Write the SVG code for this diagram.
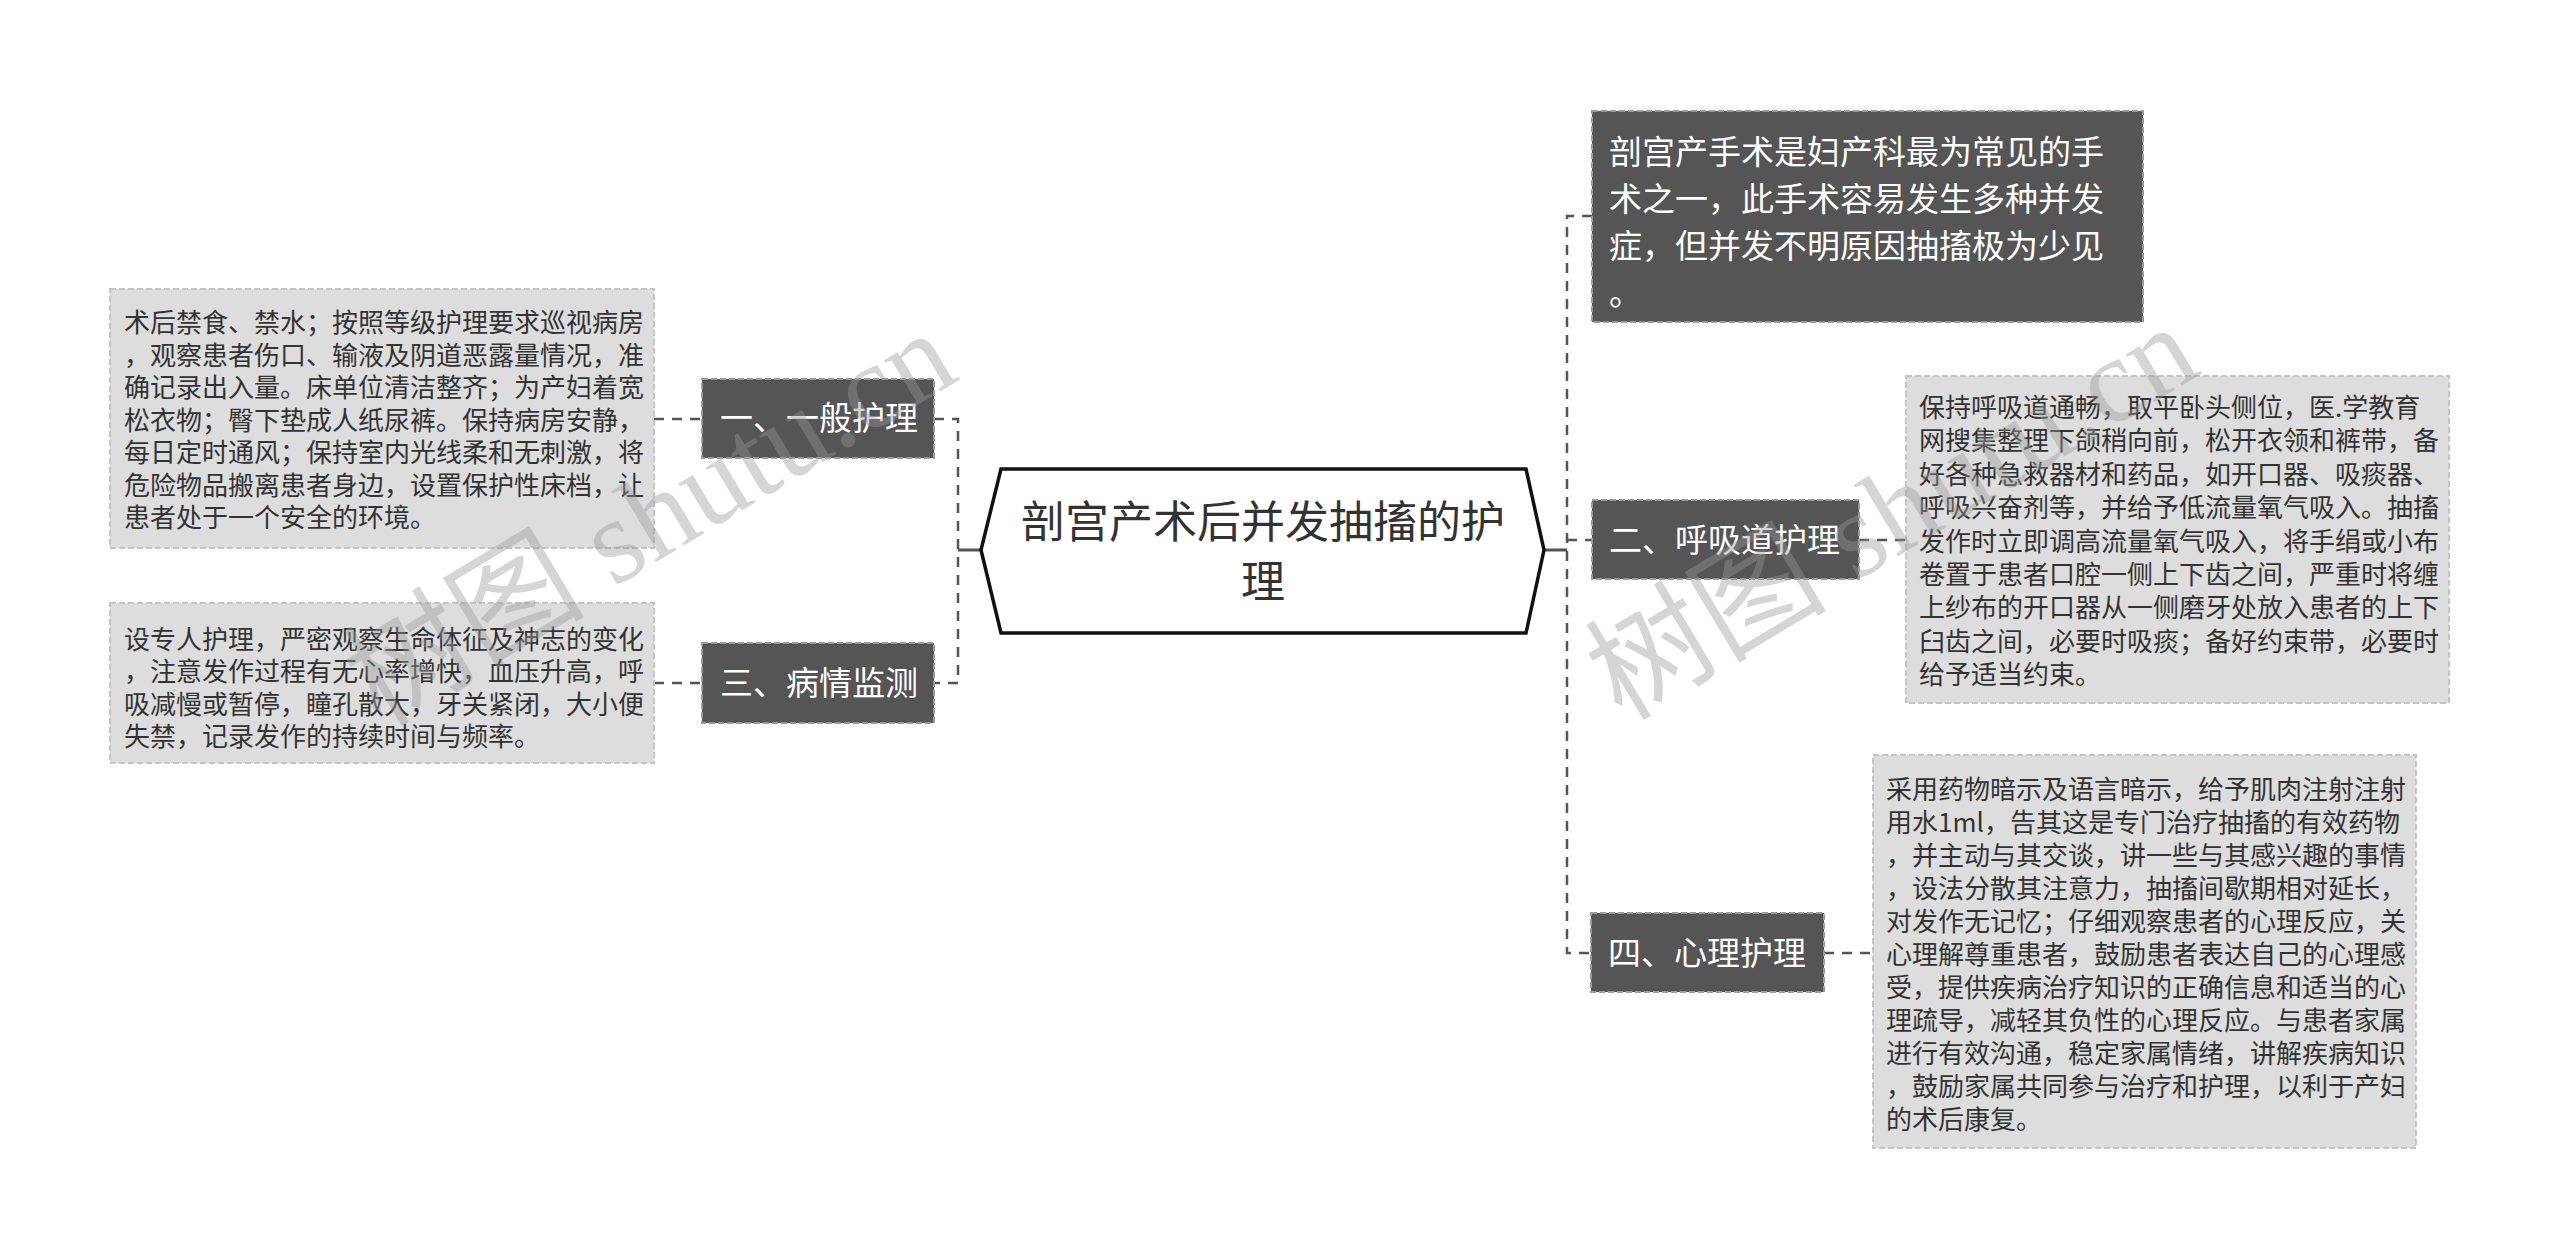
<svg xmlns="http://www.w3.org/2000/svg" width="2560" height="1260" viewBox="0 0 2560 1260">
<style>
.box{fill:#dddddd;stroke:#c4c4c4;stroke-width:2;stroke-dasharray:6 3}
.node{fill:#555555;stroke:#9a9a9a;stroke-width:2;stroke-dasharray:6 3}
.t{font-family:"Noto Sans CJK SC","Noto Sans",sans-serif;font-size:26px;fill:#333333}
.nt{font-family:"Noto Sans CJK SC","Noto Sans",sans-serif;font-size:33px;fill:#ffffff}
.title{font-family:"Noto Sans CJK SC","Noto Sans",sans-serif;font-size:44px;fill:#333333;text-anchor:middle}
.dash{fill:none;stroke:#555555;stroke-width:2.5;stroke-dasharray:10 8}
.solid{fill:none;stroke:#555555;stroke-width:3}
.wm{font-family:"Liberation Serif","Noto Sans CJK SC",serif;font-size:121px;fill:#999999;opacity:0.4}
</style>
<rect width="2560" height="1260" fill="#ffffff"/>
<g id="connectors">
<path class="dash" d="M654,419 H702"/>
<path class="dash" d="M934,419 H958 V683 H934"/>
<path class="dash" d="M654,683 H702"/>
<path class="solid" d="M958,550 H981"/>
<path class="solid" d="M1544,550 H1567"/>
<path class="dash" d="M1592,216 H1567 V953 H1591"/>
<path class="dash" d="M1567,540 H1592"/>
<path class="dash" d="M1859,540 H1906"/>
<path class="dash" d="M1824,953 H1873"/>
</g>
<g id="center">
<polygon points="981,550 1001,469 1526,469 1544,550 1526,633 1001,633" fill="#ffffff" stroke="#111111" stroke-width="3.5"/>
<text class="title" x="1263" y="538">剖宫产术后并发抽搐的护</text>
<text class="title" x="1263" y="598">理</text>
</g>
<g id="node1">
<rect class="node" x="702" y="379" width="232" height="79"/>
<text class="nt" x="720" y="430">一、一般护理</text>
</g>
<g id="node1-detail">
<rect class="box" x="110" y="289" width="544" height="259"/>
<text class="t" x="124" y="332">术后禁食、禁水；按照等级护理要求巡视病房</text>
<text class="t" x="124" y="365">，观察患者伤口、输液及阴道恶露量情况，准</text>
<text class="t" x="124" y="397">确记录出入量。床单位清洁整齐；为产妇着宽</text>
<text class="t" x="124" y="430">松衣物；臀下垫成人纸尿裤。保持病房安静，</text>
<text class="t" x="124" y="462">每日定时通风；保持室内光线柔和无刺激，将</text>
<text class="t" x="124" y="495">危险物品搬离患者身边，设置保护性床档，让</text>
<text class="t" x="124" y="527">患者处于一个安全的环境。</text>
</g>
<g id="node3">
<rect class="node" x="702" y="643" width="232" height="80"/>
<text class="nt" x="720" y="695">三、病情监测</text>
</g>
<g id="node3-detail">
<rect class="box" x="110" y="603" width="544" height="160"/>
<text class="t" x="124" y="649">设专人护理，严密观察生命体征及神志的变化</text>
<text class="t" x="124" y="681">，注意发作过程有无心率增快，血压升高，呼</text>
<text class="t" x="124" y="714">吸减慢或暂停，瞳孔散大，牙关紧闭，大小便</text>
<text class="t" x="124" y="746">失禁，记录发作的持续时间与频率。</text>
</g>
<g id="intro">
<rect class="node" x="1592" y="111" width="551" height="211"/>
<text class="nt" x="1609" y="164">剖宫产手术是妇产科最为常见的手</text>
<text class="nt" x="1609" y="211">术之一，此手术容易发生多种并发</text>
<text class="nt" x="1609" y="258">症，但并发不明原因抽搐极为少见</text>
<text class="nt" x="1609" y="305">。</text>
</g>
<g id="node2">
<rect class="node" x="1592" y="500" width="267" height="79"/>
<text class="nt" x="1609" y="552">二、呼吸道护理</text>
</g>
<g id="node2-detail">
<rect class="box" x="1906" y="376" width="543" height="327"/>
<text class="t" x="1919" y="417">保持呼吸道通畅，取平卧头侧位，医.学教育</text>
<text class="t" x="1919" y="450">网搜集整理下颌稍向前，松开衣领和裤带，备</text>
<text class="t" x="1919" y="484">好各种急救器材和药品，如开口器、吸痰器、</text>
<text class="t" x="1919" y="517">呼吸兴奋剂等，并给予低流量氧气吸入。抽搐</text>
<text class="t" x="1919" y="551">发作时立即调高流量氧气吸入，将手绢或小布</text>
<text class="t" x="1919" y="584">卷置于患者口腔一侧上下齿之间，严重时将缠</text>
<text class="t" x="1919" y="617">上纱布的开口器从一侧磨牙处放入患者的上下</text>
<text class="t" x="1919" y="651">臼齿之间，必要时吸痰；备好约束带，必要时</text>
<text class="t" x="1919" y="684">给予适当约束。</text>
</g>
<g id="node4">
<rect class="node" x="1591" y="913" width="233" height="79"/>
<text class="nt" x="1608" y="965">四、心理护理</text>
</g>
<g id="node4-detail">
<rect class="box" x="1873" y="755" width="543" height="393"/>
<text class="t" x="1886" y="799">采用药物暗示及语言暗示，给予肌肉注射注射</text>
<text class="t" x="1886" y="832">用水1ml，告其这是专门治疗抽搐的有效药物</text>
<text class="t" x="1886" y="865">，并主动与其交谈，讲一些与其感兴趣的事情</text>
<text class="t" x="1886" y="898">，设法分散其注意力，抽搐间歇期相对延长，</text>
<text class="t" x="1886" y="931">对发作无记忆；仔细观察患者的心理反应，关</text>
<text class="t" x="1886" y="964">心理解尊重患者，鼓励患者表达自己的心理感</text>
<text class="t" x="1886" y="997">受，提供疾病治疗知识的正确信息和适当的心</text>
<text class="t" x="1886" y="1030">理疏导，减轻其负性的心理反应。与患者家属</text>
<text class="t" x="1886" y="1063">进行有效沟通，稳定家属情绪，讲解疾病知识</text>
<text class="t" x="1886" y="1096">，鼓励家属共同参与治疗和护理，以利于产妇</text>
<text class="t" x="1886" y="1129">的术后康复。</text>
</g>
<g id="watermarks">
<text class="wm" transform="translate(380,728) rotate(-31)">树图 shutu.cn</text>
<text class="wm" transform="translate(1622,722) rotate(-31)">树图 shutu.cn</text>
</g>
</svg>
